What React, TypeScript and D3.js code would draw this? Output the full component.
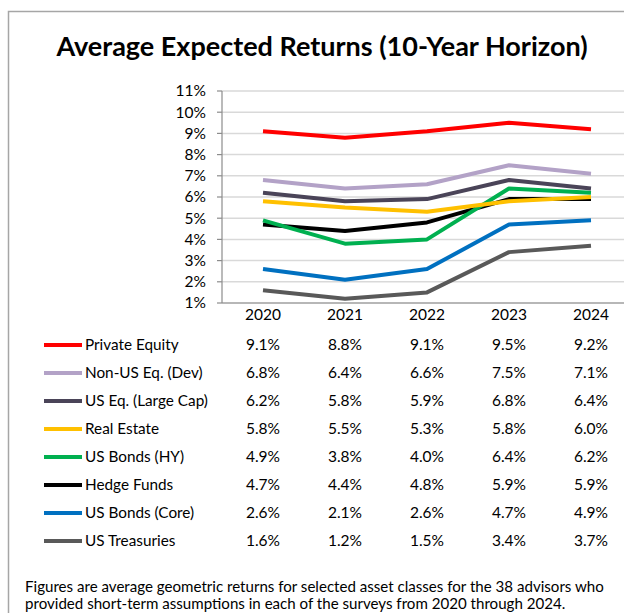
import React from 'react';
import * as d3 from 'd3';

const years = ['2020', '2021', '2022', '2023', '2024'];
const seriesNames = [
  'Private Equity',
  'Non-US Eq. (Dev)',
  'US Eq. (Large Cap)',
  'Real Estate',
  'US Bonds (HY)',
  'Hedge Funds',
  'US Bonds (Core)',
  'US Treasuries',
];
const privateEquity = [9.1, 8.8, 9.1, 9.5, 9.2];
const nonUsEq = [6.8, 6.4, 6.6, 7.5, 7.1];
const usEqLarge = [6.2, 5.8, 5.9, 6.8, 6.4];
const realEstate = [5.8, 5.5, 5.3, 5.8, 6.0];
const usBondsHY = [4.9, 3.8, 4.0, 6.4, 6.2];
const hedgeFunds = [4.7, 4.4, 4.8, 5.9, 5.9];
const usBondsCore = [2.6, 2.1, 2.6, 4.7, 4.9];
const usTreasuries = [1.6, 1.2, 1.5, 3.4, 3.7];
const seriesColors = ['#ff0000', '#b3a2c7', '#4a4458', '#ffc000', '#00b050', '#000000', '#0070c0', '#595959'];
const yTicks = [1, 2, 3, 4, 5, 6, 7, 8, 9, 10, 11];

const allSeries = [privateEquity, nonUsEq, usEqLarge, realEstate, usBondsHY, hedgeFunds, usBondsCore, usTreasuries];

const FONT = 'Lato, "Noto Sans", sans-serif';

const App = () => {
  const x = d3.scaleBand().domain(years).range([222, 632]);
  const y = d3.scaleLinear().domain([1, 11]).range([303, 91]);
  const line = d3
    .line<number>()
    .x((_, i) => (x(years[i]) as number) + x.bandwidth() / 2)
    .y((d) => y(d));

  const rowY = d3.scaleLinear().domain([0, 7]).range([345, 541]);

  return (
    <svg
      width={624}
      height={613}
      style={{ position: 'absolute', left: 0, top: 0, background: '#fff' }}
      fontFamily={FONT}
    >
      {/* frame */}
      <path d="M8.5,613 L8.5,11.5 L624,11.5" fill="none" stroke="#a6a6a6" strokeWidth={1.5} />

      <text x={322} y={56} textAnchor="middle" fontSize={27} fontWeight="bold" fill="#000">
        Average Expected Returns (10-Year Horizon)
      </text>

      {/* gridlines */}
      {yTicks.map((t) => (
        <line key={'g' + t} x1={222} x2={624} y1={y(t)} y2={y(t)} stroke="#d9d9d9" strokeWidth={1.5} />
      ))}
      {/* y axis */}
      <line x1={222} x2={222} y1={y(11)} y2={y(1)} stroke="#8c8c8c" strokeWidth={1.2} />
      <line x1={222} x2={624} y1={y(1)} y2={y(1)} stroke="#8c8c8c" strokeWidth={1.2} />
      {yTicks.map((t) => (
        <g key={'t' + t}>
          <line x1={217} x2={222} y1={y(t)} y2={y(t)} stroke="#8c8c8c" strokeWidth={1.2} />
          <text x={206} y={y(t)} dy="0.35em" textAnchor="end" fontSize={15.5} fill="#000">
            {t}%
          </text>
        </g>
      ))}

      {/* year labels */}
      {years.map((yr) => (
        <text
          key={yr}
          x={(x(yr) as number) + x.bandwidth() / 2}
          y={320}
          textAnchor="middle"
          fontSize={15.5}
          fill="#000"
        >
          {yr}
        </text>
      ))}

      {/* lines, drawn bottom-up so upper series sit on top */}
      {allSeries
        .map((s, i) => ({ s, i }))
        .reverse()
        .map(({ s, i }) => (
          <path
            key={'l' + i}
            d={line(s) as string}
            fill="none"
            stroke={seriesColors[i]}
            strokeWidth={4}
            strokeLinejoin="round"
          />
        ))}

      {/* data table */}
      {seriesNames.map((name, i) => (
        <g key={'r' + i}>
          <line x1={44} x2={82} y1={rowY(i)} y2={rowY(i)} stroke={seriesColors[i]} strokeWidth={4} />
          <text x={85} y={rowY(i)} dy="0.35em" fontSize={15.3} fill="#000">
            {name}
          </text>
          {allSeries[i].map((v, j) => (
            <text
              key={j}
              x={(x(years[j]) as number) + x.bandwidth() / 2}
              y={rowY(i)}
              dy="0.35em"
              textAnchor="middle"
              fontSize={15.5}
              fill="#000"
            >
              {v.toFixed(1)}%
            </text>
          ))}
        </g>
      ))}

      <text x={25} y={592} fontSize={15.1} fill="#000">
        Figures are average geometric returns for selected asset classes for the 38 advisors who
      </text>
      <text x={25} y={609} fontSize={15.1} fill="#000">
        provided short-term assumptions in each of the surveys from 2020 through 2024.
      </text>
    </svg>
  );
};

export default App;
